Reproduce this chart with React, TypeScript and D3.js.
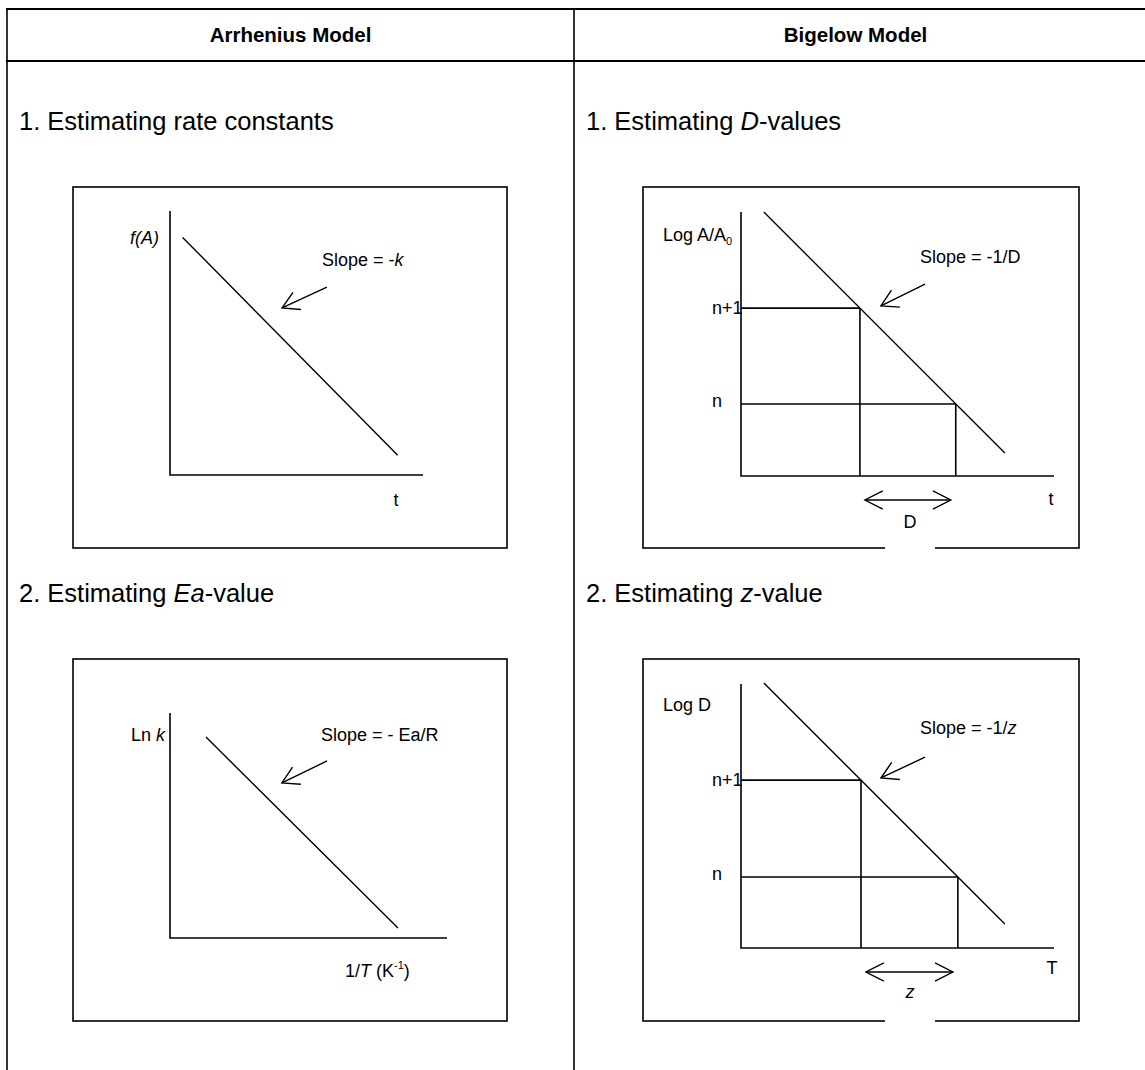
import React from 'react';
import * as d3 from 'd3';

// ---------- DATA (schematic values, axis units 0..10) ----------
const columnTitles = ['Arrhenius Model', 'Bigelow Model'];

// Arrhenius 1: f(A) vs t
const rateLine: [number, number][] = [[0.5, 9.0], [9.0, 0.75]];
const rateArrow: [number, number][] = [[6.2, 7.12], [4.43, 6.33]]; // tail, tip

// Arrhenius 2: Ln k vs 1/T
const eaLine: [number, number][] = [[1.3, 8.93], [8.23, 0.44]];
const eaArrow: [number, number][] = [[5.67, 7.87], [4.04, 6.89]];

// Bigelow 1: Log A/A0 vs t
const dLine: [number, number][] = [[0.73, 10.0], [8.43, 0.87]];
const dLevels = [6.36, 2.73];
const dArrow: [number, number][] = [[5.88, 7.27], [4.47, 6.44]];

// Bigelow 2: Log D vs T
const zLine: [number, number][] = [[0.73, 10.04], [8.43, 0.91]];
const zLevels = [6.36, 2.69];
const zArrow: [number, number][] = [[5.88, 7.23], [4.47, 6.44]];

const levelLabels = ['n+1', 'n'];

// ---------- LAYOUT ----------
const FONT = "'Liberation Sans', Arial, Helvetica, sans-serif";
const W = 1145;
const H = 1070;

type Layout = {
  box: [number, number, number, number];
  ax: { x0: number; x1: number; y0: number; yTop: number };
};

const layouts: Record<string, Layout> = {
  rate: { box: [73, 187, 507, 548], ax: { x0: 170, x1: 423, y0: 475, yTop: 211 } },
  ea: { box: [73, 659, 507, 1021], ax: { x0: 170, x1: 447, y0: 938, yTop: 713 } },
  d: { box: [643, 187, 1079, 548], ax: { x0: 741, x1: 1054, y0: 476, yTop: 212 } },
  z: { box: [643, 659, 1079, 1021], ax: { x0: 741, x1: 1054, y0: 948, yTop: 684 } },
};

function scalesFor(l: Layout) {
  const x = d3.scaleLinear().domain([0, 10]).range([l.ax.x0, l.ax.x1]);
  const y = d3.scaleLinear().domain([0, 10]).range([l.ax.y0, l.ax.yTop]);
  return { x, y };
}

function arrowHead(tip: [number, number], from: [number, number], len: number, deg: number) {
  const a = Math.atan2(from[1] - tip[1], from[0] - tip[0]);
  const r = (deg * Math.PI) / 180;
  const p1: [number, number] = [tip[0] + len * Math.cos(a - r), tip[1] + len * Math.sin(a - r)];
  const p2: [number, number] = [tip[0] + len * Math.cos(a + r), tip[1] + len * Math.sin(a + r)];
  return `M${p1[0]},${p1[1]}L${tip[0]},${tip[1]}L${p2[0]},${p2[1]}`;
}

const lineGen = d3.line<[number, number]>();

function Box({ l }: { l: Layout }) {
  const [x0, y0, x1, y1] = l.box;
  return <rect x={x0} y={y0} width={x1 - x0} height={y1 - y0} fill="none" stroke="#000" strokeWidth={1.6} />;
}

function Axes({ l }: { l: Layout }) {
  const { x0, x1, y0, yTop } = l.ax;
  return <path d={`M${x0},${yTop}L${x0},${y0}L${x1},${y0}`} fill="none" stroke="#000" strokeWidth={1.6} />;
}

function Pointer({ pts, sx, sy }: { pts: [number, number][]; sx: any; sy: any }) {
  const tail: [number, number] = [sx(pts[0][0]), sy(pts[0][1])];
  const tip: [number, number] = [sx(pts[1][0]), sy(pts[1][1])];
  return (
    <g fill="none" stroke="#000" strokeWidth={1.4}>
      <path d={lineGen([tail, tip]) || ''} />
      <path d={arrowHead(tip, tail, 19, 30)} />
    </g>
  );
}

function ArrheniusPanel({ id, line, arrow, children }: { id: string; line: [number, number][]; arrow: [number, number][]; children?: any }) {
  const l = layouts[id];
  const { x, y } = scalesFor(l);
  const pts = line.map((d) => [x(d[0]), y(d[1])] as [number, number]);
  return (
    <g>
      <Box l={l} />
      <Axes l={l} />
      <path d={lineGen(pts) || ''} fill="none" stroke="#000" strokeWidth={1.4} />
      <Pointer pts={arrow} sx={x} sy={y} />
      {children}
    </g>
  );
}

function BigelowPanel({ id, line, levels, arrow, gap, children }: { id: string; line: [number, number][]; levels: number[]; arrow: [number, number][]; gap: [number, number]; children?: any }) {
  const l = layouts[id];
  const { x, y } = scalesFor(l);
  const pts = line.map((d) => [x(d[0]), y(d[1])] as [number, number]);
  const [p0, p1] = line;
  const slope = (p1[1] - p0[1]) / (p1[0] - p0[0]);
  const xAt = (lv: number) => p0[0] + (lv - p0[1]) / slope;
  const xs = levels.map(xAt);
  const ya = l.ax.y0 + 24;
  const a0: [number, number] = [x(xs[0]) + 5, ya];
  const a1: [number, number] = [x(xs[1]) - 5, ya];
  return (
    <g>
      <Box l={l} />
      <rect x={gap[0]} y={l.box[3] - 2} width={gap[1] - gap[0]} height={4} fill="#fff" />
      <Axes l={l} />
      <path d={lineGen(pts) || ''} fill="none" stroke="#000" strokeWidth={1.4} />
      {levels.map((lv, i) => (
        <g key={i} fill="none" stroke="#000" strokeWidth={1.6}>
          <line x1={l.ax.x0} x2={x(xs[i])} y1={y(lv)} y2={y(lv)} />
          <line x1={x(xs[i])} x2={x(xs[i])} y1={y(lv)} y2={l.ax.y0} />
        </g>
      ))}
      {levels.map((lv, i) => (
        <text key={'t' + i} x={l.ax.x0 - 29} y={y(lv) + (i === 0 ? 6 : 3)} fontSize={18} fontFamily={FONT}>
          {levelLabels[i]}
        </text>
      ))}
      <g fill="none" stroke="#000" strokeWidth={1.4}>
        <path d={lineGen([a0, a1]) || ''} />
        <path d={arrowHead(a0, a1, 20, 27)} />
        <path d={arrowHead(a1, a0, 20, 27)} />
      </g>
      <Pointer pts={arrow} sx={x} sy={y} />
      {children}
    </g>
  );
}

export default function App() {
  const colL = 7;
  const colM = 574;
  return (
    <svg width={W} height={H} style={{ position: 'absolute', left: 0, top: 0, background: '#fff' }} fontFamily={FONT}>
      <rect x={0} y={0} width={W} height={H} fill="#fff" />
      {/* table grid */}
      <g stroke="#000" fill="none">
        <line x1={colL - 1} x2={W} y1={9} y2={9} strokeWidth={2} />
        <line x1={colL - 1} x2={W} y1={61} y2={61} strokeWidth={2} />
        <line x1={colL} x2={colL} y1={8} y2={H} strokeWidth={1.6} />
        <line x1={colM} x2={colM} y1={8} y2={H} strokeWidth={1.6} />
      </g>
      <text x={(colL + colM) / 2} y={42} textAnchor="middle" fontSize={20.5} fontWeight="bold">{columnTitles[0]}</text>
      <text x={(colM + 1137) / 2} y={42} textAnchor="middle" fontSize={20.5} fontWeight="bold">{columnTitles[1]}</text>

      {/* section titles */}
      <text x={19} y={130} fontSize={25.5}>1. Estimating rate constants</text>
      <text x={586} y={130} fontSize={25.5}>1. Estimating <tspan fontStyle="italic">D</tspan>-values</text>
      <text x={19} y={602} fontSize={25.5}>2. Estimating <tspan fontStyle="italic">Ea</tspan>-value</text>
      <text x={586} y={602} fontSize={25.5}>2. Estimating <tspan fontStyle="italic">z</tspan>-value</text>

      <ArrheniusPanel id="rate" line={rateLine} arrow={rateArrow}>
        <text x={159} y={244} fontSize={18} textAnchor="end" fontStyle="italic">f(A)</text>
        <text x={322} y={266} fontSize={18}>Slope = -<tspan fontStyle="italic">k</tspan></text>
        <text x={396} y={506} fontSize={18} textAnchor="middle">t</text>
      </ArrheniusPanel>

      <ArrheniusPanel id="ea" line={eaLine} arrow={eaArrow}>
        <text x={165} y={741} fontSize={18} textAnchor="end">Ln <tspan fontStyle="italic">k</tspan></text>
        <text x={321} y={741} fontSize={18}>Slope = - Ea/R</text>
        <text x={345} y={977} fontSize={18}>1/<tspan fontStyle="italic">T</tspan> (K<tspan fontSize={11} dy={-8}>-1</tspan><tspan dy={8}>)</tspan></text>
      </ArrheniusPanel>

      <BigelowPanel id="d" line={dLine} levels={dLevels} arrow={dArrow} gap={[885, 935]}>
        <text x={663} y={241} fontSize={18}>Log A/A<tspan fontSize={11} dy={4}>0</tspan></text>
        <text x={920} y={263} fontSize={18}>Slope = -1/D</text>
        <text x={1051} y={505} fontSize={18} textAnchor="middle">t</text>
        <text x={910} y={528} fontSize={18} textAnchor="middle">D</text>
      </BigelowPanel>

      <BigelowPanel id="z" line={zLine} levels={zLevels} arrow={zArrow} gap={[885, 935]}>
        <text x={663} y={711} fontSize={18}>Log D</text>
        <text x={920} y={734} fontSize={18}>Slope = -1/<tspan fontStyle="italic">z</tspan></text>
        <text x={1052} y={974} fontSize={18} textAnchor="middle">T</text>
        <text x={910} y={998} fontSize={18} textAnchor="middle" fontStyle="italic">z</text>
      </BigelowPanel>
    </svg>
  );
}
